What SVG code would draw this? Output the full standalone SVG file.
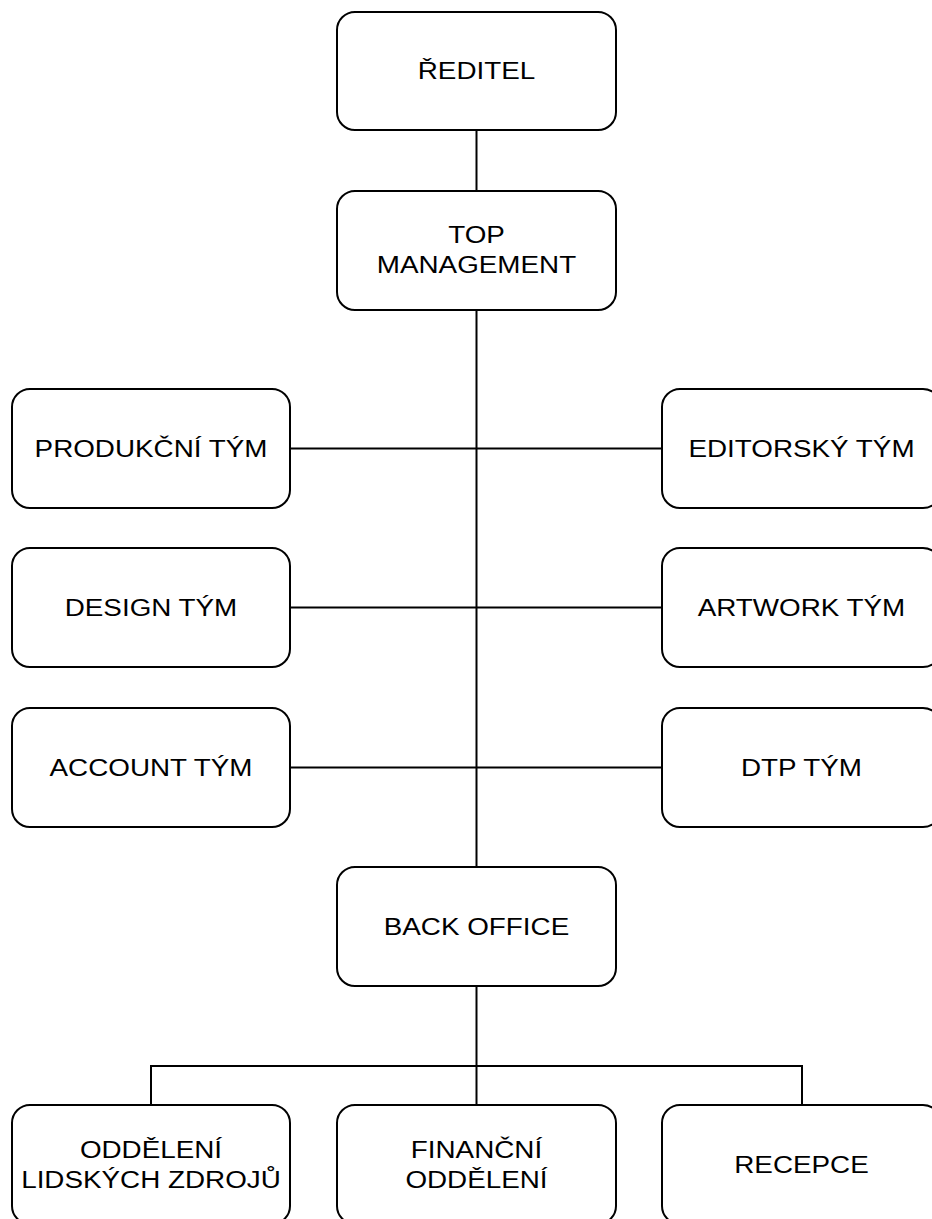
<svg xmlns="http://www.w3.org/2000/svg" width="932" height="1219" viewBox="0 0 932 1219">
<style>
.box{fill:#fff;stroke:#000;stroke-width:2}
.ln{fill:none;stroke:#000;stroke-width:2}
.t{font-family:"Liberation Sans",Arial,sans-serif;font-size:23px;fill:#000;text-anchor:middle}
</style>
<rect width="932" height="1219" fill="#fff"/>
<g id="connectors">
<line class="ln" x1="476.5" y1="130" x2="476.5" y2="191"/>
<line class="ln" x1="476.5" y1="310" x2="476.5" y2="867"/>
<line class="ln" x1="290" y1="448.5" x2="662" y2="448.5"/>
<line class="ln" x1="290" y1="607.5" x2="662" y2="607.5"/>
<line class="ln" x1="290" y1="767.5" x2="662" y2="767.5"/>
<line class="ln" x1="476.5" y1="986" x2="476.5" y2="1105"/>
<polyline class="ln" points="151,1105 151,1066 802,1066 802,1105"/>
</g>
<g id="n-reditel"><rect class="box" x="337" y="12" width="279" height="118" rx="18"/><g transform="scale(1.21,1)"><text class="t" x="393.8" y="79">ŘEDITEL</text></g></g>
<g id="n-top"><rect class="box" x="337" y="191" width="279" height="119" rx="18"/><g transform="scale(1.21,1)"><text class="t" x="393.8" y="243">TOP</text><text class="t" x="393.8" y="273">MANAGEMENT</text></g></g>
<g id="n-produkcni"><rect class="box" x="12" y="389" width="278" height="119" rx="18"/><g transform="scale(1.21,1)"><text class="t" x="124.8" y="457">PRODUKČNÍ TÝM</text></g></g>
<g id="n-editorsky"><rect class="box" x="662" y="389" width="279" height="119" rx="18"/><g transform="scale(1.21,1)"><text class="t" x="662.4" y="457">EDITORSKÝ TÝM</text></g></g>
<g id="n-design"><rect class="box" x="12" y="548" width="278" height="119" rx="18"/><g transform="scale(1.21,1)"><text class="t" x="124.8" y="616">DESIGN TÝM</text></g></g>
<g id="n-artwork"><rect class="box" x="662" y="548" width="279" height="119" rx="18"/><g transform="scale(1.21,1)"><text class="t" x="662.4" y="616">ARTWORK TÝM</text></g></g>
<g id="n-account"><rect class="box" x="12" y="708" width="278" height="119" rx="18"/><g transform="scale(1.21,1)"><text class="t" x="124.8" y="776">ACCOUNT TÝM</text></g></g>
<g id="n-dtp"><rect class="box" x="662" y="708" width="279" height="119" rx="18"/><g transform="scale(1.21,1)"><text class="t" x="662.4" y="776">DTP TÝM</text></g></g>
<g id="n-backoffice"><rect class="box" x="337" y="867" width="279" height="119" rx="18"/><g transform="scale(1.21,1)"><text class="t" x="393.8" y="935">BACK OFFICE</text></g></g>
<g id="n-hr"><rect class="box" x="12" y="1105" width="278" height="119" rx="18"/><g transform="scale(1.21,1)"><text class="t" x="124.8" y="1158">ODDĚLENÍ</text><text class="t" x="124.8" y="1188">LIDSKÝCH ZDROJŮ</text></g></g>
<g id="n-financni"><rect class="box" x="337" y="1105" width="279" height="119" rx="18"/><g transform="scale(1.21,1)"><text class="t" x="393.8" y="1158">FINANČNÍ</text><text class="t" x="393.8" y="1188">ODDĚLENÍ</text></g></g>
<g id="n-recepce"><rect class="box" x="662" y="1105" width="279" height="119" rx="18"/><g transform="scale(1.21,1)"><text class="t" x="662.4" y="1173">RECEPCE</text></g></g>
</svg>
